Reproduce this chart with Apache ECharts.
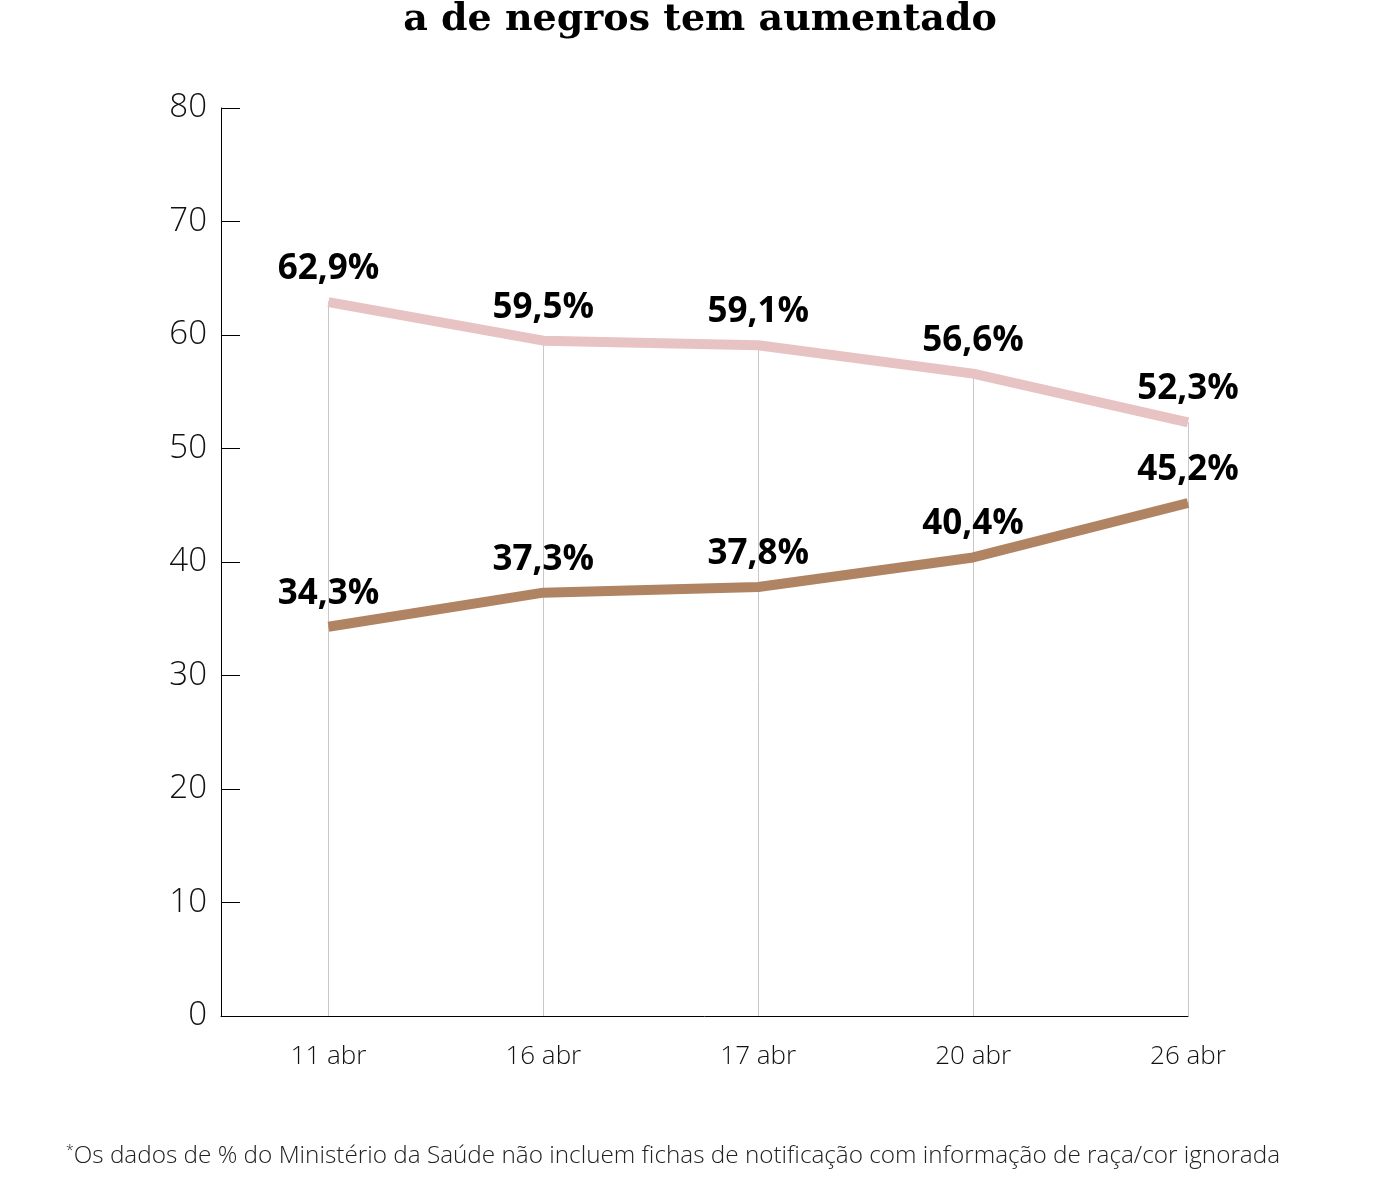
<!DOCTYPE html>
<html><head><meta charset="utf-8">
<script src="https://cdn.jsdelivr.net/npm/echarts@6/dist/echarts.min.js"></script>
<style>html,body{margin:0;padding:0;background:#fff}#c{width:1400px;height:1200px}</style>
</head><body><div id="c"></div>
<script>
const categories = ['11 abr','16 abr','17 abr','20 abr','26 abr'];
const brancos = [62.9, 59.5, 59.1, 56.6, 52.3];
const negros = [34.3, 37.3, 37.8, 40.4, 45.2];
const yTicks = [0,10,20,30,40,50,60,70,80];

const fmt = v => v.toFixed(1).replace('.', ',') + '%';
const toPts = arr => arr.map((v,i)=>[i,v]);
const dropLines = categories.map((c,i)=>[{coord:[i,0]},{coord:[i,Math.max(brancos[i],negros[i])]}]);

const labelStyle = {show:true, position:'top', distance:15, formatter:p=>fmt(p.value[1]),
  fontFamily:'Open Sans', fontWeight:'bold', fontSize:35, color:'#000'};

const chart = echarts.init(document.getElementById('c'));
chart.setOption({
  backgroundColor:'#fff',
  animation:false,
  title:[{
    text:'a de negros tem aumentado', left:'center', top:-4,
    textStyle:{fontFamily:'DejaVu Serif', fontWeight:'bold', fontSize:38, color:'#000'}
  },{
    text:'{s|*}Os dados de % do Ministério da Saúde não incluem fichas de notificação com informação de raça/cor ignorada',
    left:66, top:1144, padding:0,
    textStyle:{fontFamily:'Open Sans', fontWeight:300, fontSize:24.3, color:'#222',
      rich:{s:{fontSize:14, verticalAlign:'top', lineHeight:24, padding:[0,0,10,0], fontFamily:'Open Sans', color:'#222'}}}
  }],
  grid:{left:221, right:212, top:108, bottom:184, containLabel:false},
  xAxis:{
    type:'value', min:-0.5, max:4, interval:0.5,
    splitLine:{show:false},
    axisLine:{show:true, onZero:false, lineStyle:{color:'#000', width:1}},
    axisTick:{show:false},
    axisLabel:{
      margin:28, fontFamily:'Open Sans', fontWeight:300, fontSize:26, color:'#111',
      formatter: v => (Math.abs(v-Math.round(v))<1e-6 && v>=0 && v<categories.length) ? categories[Math.round(v)] : ''
    }
  },
  yAxis:{
    type:'value', min:0, max:80, interval:10,
    splitLine:{show:false},
    axisLine:{show:true, onZero:false, lineStyle:{color:'#000', width:1}},
    axisTick:{show:true, inside:true, length:19, lineStyle:{color:'#000', width:1}},
    axisLabel:{margin:14, fontFamily:'Open Sans', fontWeight:300, fontSize:33, color:'#111',
      formatter: v => yTicks.includes(v) ? String(v) : ''}
  },
  series:[{
    type:'line', data:toPts(brancos), symbol:'circle', symbolSize:1, showSymbol:true, z:3,
    itemStyle:{color:'#e8c3c3'},
    lineStyle:{color:'#e8c3c3', width:10},
    label:labelStyle,
    markLine:{silent:true, symbol:'none', z:1, animation:false,
      lineStyle:{color:'#c8c8c8', width:1, type:'solid'}, label:{show:false}, data:dropLines}
  },{
    type:'line', data:toPts(negros), symbol:'circle', symbolSize:1, showSymbol:true, z:3,
    itemStyle:{color:'#b08462'},
    lineStyle:{color:'#b08462', width:10},
    label:labelStyle
  }]
});
</script></body></html>
